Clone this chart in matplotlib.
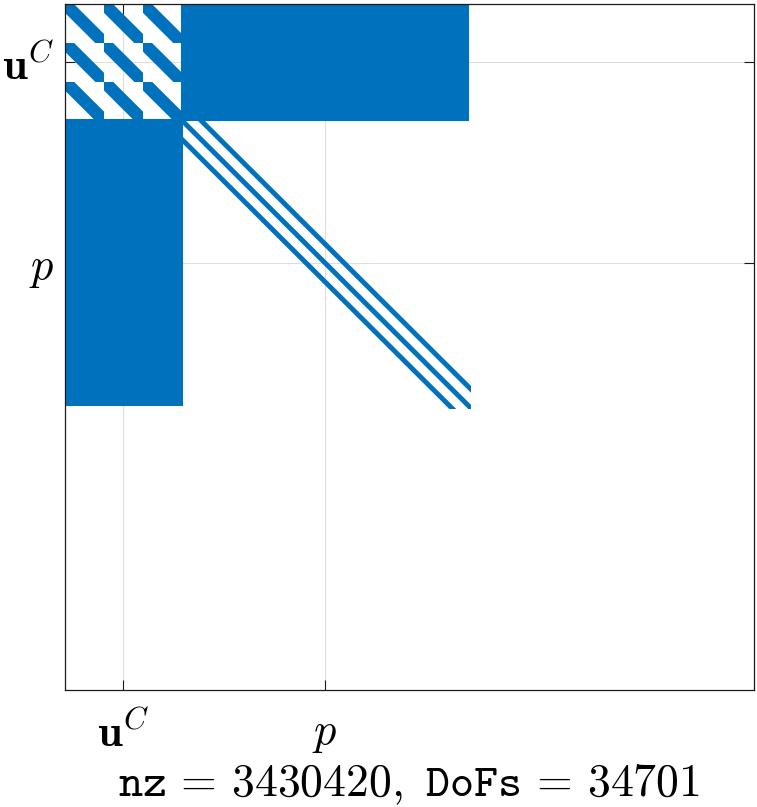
import numpy as np
import matplotlib
matplotlib.use("Agg")
import matplotlib.pyplot as plt
from matplotlib.patches import Polygon, Rectangle

plt.rcParams['mathtext.fontset'] = 'cm'

# matrix structure (sizes in DoFs)
n_dofs = 34701
nnz = 3430420
n_uc = 1964            # one velocity component
n_comp = 3             # components of u^C
n_p = 14403            # pressure block
u_band = 450           # half band width of the u-u sub blocks
p_band = 176           # half width of each p-p diagonal
p_offsets = [-957, 0, 957]
tick_labels = [r'$\mathbf{u}^C$', r'$p$']

blue = '#0072BD'
n_u = n_comp * n_uc
n_tot = n_u + n_p


def band(ax, off, h, c0, c1, r0, r1):
    # diagonal band col - row = off, clipped to the block [c0,c1]x[r0,r1]
    a, b = r0 - 2 * h, r1 + 2 * h
    pts = [(a + off - h, a), (b + off - h, b), (b + off + h, b), (a + off + h, a)]
    poly = Polygon(pts, closed=True, facecolor=blue, edgecolor='none', zorder=2)
    ax.add_patch(poly)
    clip = Rectangle((c0, r0), c1 - c0, r1 - r0, transform=ax.transData)
    poly.set_clip_path(clip)


fig = plt.figure(figsize=(7.57, 8.07), dpi=100)
ax = fig.add_axes([65 / 757, 117 / 807, 689 / 757, 686 / 807])

# u-u block: banded 3x3 sub blocks
for i in range(n_comp):
    for j in range(n_comp):
        band(ax, (j - i) * n_uc, u_band,
             j * n_uc, (j + 1) * n_uc, i * n_uc, (i + 1) * n_uc)

# coupling blocks, dense
ax.add_patch(Rectangle((n_u, 0), n_p, n_u, facecolor=blue, edgecolor=blue,
                       linewidth=1.5, zorder=2))
ax.add_patch(Rectangle((0, n_u), n_u, n_p, facecolor=blue, edgecolor=blue,
                       linewidth=1.5, zorder=2))

# p-p block: three diagonals
for off in p_offsets:
    band(ax, off, p_band, n_u - p_band, n_tot + p_band, n_u - p_band, n_tot + p_band)

ticks = [n_u / 2, n_u + n_p / 2]
ax.set_xlim(0, n_dofs)
ax.set_ylim(n_dofs, 0)
ax.set_xticks(ticks)
ax.set_yticks(ticks)
ax.set_xticklabels(tick_labels, fontsize=32)
ax.set_yticklabels(tick_labels, fontsize=32)
ax.tick_params(direction='in', length=7, width=0.8, color='#1a1a1a',
               top=True, right=True)
ax.tick_params(axis='x', pad=16)
ax.tick_params(axis='y', pad=8)
ax.grid(True, color='#262626', alpha=0.15, linewidth=0.8)
ax.set_axisbelow(True)
for s in ax.spines.values():
    s.set_color('#1a1a1a')
    s.set_linewidth(0.9)

ax.set_xlabel(r'$\mathtt{nz}\,=\,%d,\ \mathtt{DoFs}\,=\,%d$' % (nnz, n_dofs),
              fontsize=33, labelpad=4)

fig.savefig('out.png', dpi=100)
